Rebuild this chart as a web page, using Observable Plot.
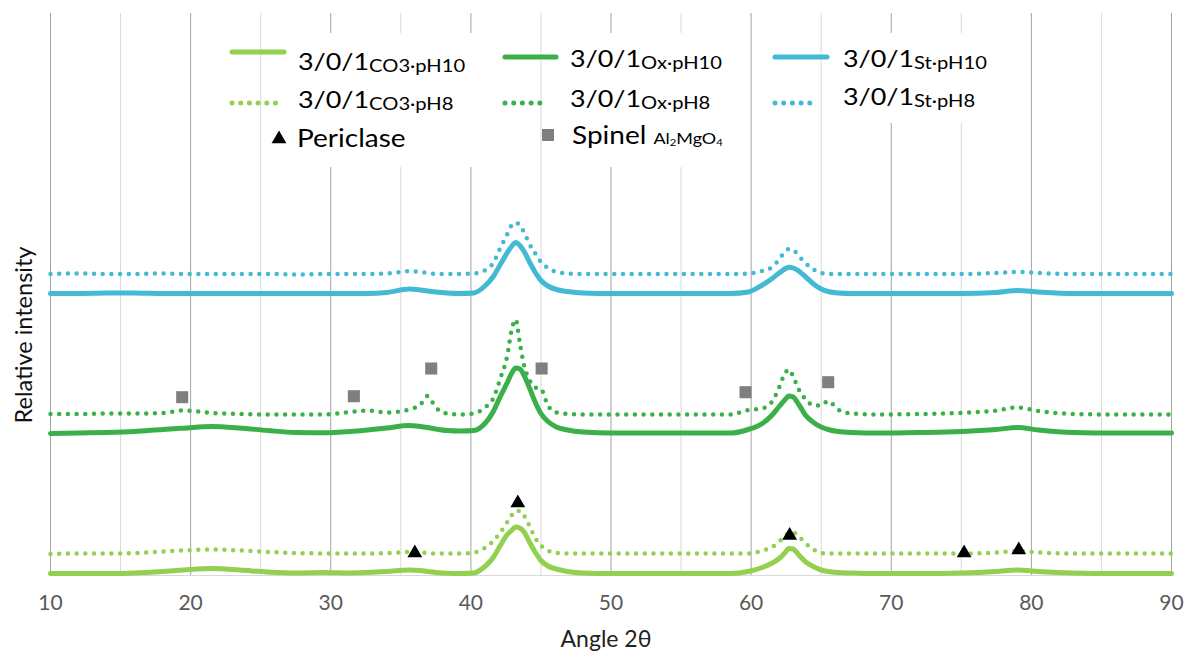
<!DOCTYPE html>
<html>
<head>
<meta charset="utf-8">
<script src="https://cdn.jsdelivr.net/npm/d3@7"></script>
<script src="https://cdn.jsdelivr.net/npm/@observablehq/plot@0.6"></script>
<style>
  html, body { margin: 0; padding: 0; background: #fff; }
  #wrap { position: relative; width: 1187px; height: 653px; font-family: Lato, "Open Sans", sans-serif; }
  #wrap svg.chart { position: absolute; left: 0; top: 0; }
  .blk { position: absolute; background: #fff; }
  .lg { position: absolute; font-size: 24px; line-height: 24px; color: #000; white-space: nowrap; transform: scaleX(1.12); transform-origin: 0 50%; }
  .lg.big { font-size: 25px; }
  .lg .s { font-size: 18px; position: relative; top: 2px; }
  .lg .ss { font-size: 16px; }
  .lg .ss sub { font-size: 10px; vertical-align: 0; position: relative; top: 2px; }
  #ylab { position: absolute; left: 23px; top: 335px; transform: translate(-50%, -50%) rotate(-90deg); font-size: 23.5px; color: #111; white-space: nowrap; }
  #xlab { position: absolute; left: 606px; top: 624px; transform: translateX(-50%); font-size: 23px; color: #222; white-space: nowrap; }
</style>
</head>
<body>
<div id="wrap"></div>
<script>
// ---- data ----
const angles = [10,12,14,16,18,19.5,21.5,23.5,25.5,27.5,29.5,31.4,32.6,34,35.6,36.4,36.9,37.5,38.3,39.3,40.2,41,41.6,42.1,42.6,42.9,43.2,43.5,43.8,44.2,44.6,45,45.5,46.1,46.9,48,50,53,56,58.5,59.8,60.8,61.5,62,62.4,62.7,63,63.4,63.9,64.5,65,65.5,66.2,67.2,69,72,75,77.5,79,80.5,83,86,90];

const co3pH10 = [2,2,2,2.5,4, 5.5,7,5.5,3.5,2.5, 3,2.5,3,4,5.5, 5,4,3,2.2,2, 2.5,9,18,30,41, 45,48.5,47.5,43.5,33, 23,15,9.5,6.5,4, 2.5,2,2,2,2, 4,8,12.5,17,22.5, 27,26.5,20.5,13.5,8.5, 5.5,4,3,2.5,2, 2,2.5,4,5.5,4, 2.5,2,2];
const co3pH8 = [21.5,22,22,22.5,24, 25,26,25,23.5,22.5, 22,22,22,22.5,23.5, 23,22.5,22,22,22, 23,27.5,34.5,43,53.5, 60,64.5,64.5,60,49, 37.5,30,25,22.5,22, 22,22,22,22,22, 22,25,28.5,34,39.5, 42.5,43,39,32,25.5, 22.5,22,22,22,22, 22,22,23,24.5,23, 22,22,22];
const oxpH10 = [142,142.5,143,144,146, 147.3,149,147.5,145,143, 142.7,144,145.5,147.5,150, 149,148,146.5,145,144.5, 145,152,164,179,193, 202,207.5,206.5,200,187, 173,162,154,148.5,145.5, 143.5,142.5,142.5,142.5,142.5, 146,152,160.5,169,175.5, 179.5,178.5,171,160,152.5, 148.5,146,144,143,142.5, 143,144,146,148,145.5, 143,142.5,142.5];
const oxpH8 = [161.5,161.5,162,162,162.5, 165,162.5,161.5,161,161, 161,163.5,165,163,166, 171,179.5,168,162,161, 162,168,177,197,220, 245,256,232,210,195, 188,186.5,170,163,161.5, 161,161,161,161,161, 165.5,167,174,188,202, 206,199,186,176,170, 170,174.5,166,162,161, 161.5,162.5,165,168,164.5, 161.5,161,161];
const stpH10 = [282,282,282.5,282.5,282, 282,282,282,282,282, 282,282,282,283,286.5, 285.5,284.5,283.5,282.5,282, 282.5,289.5,299,311,323, 329,333,330,324,313, 303,295,289.5,286,284, 282.5,282,282,282,282, 283.5,290.5,297,302.5,306.5, 308.3,307.5,304.5,298.5,291, 286.5,284,282.5,282,282, 282,282,283,285,283.5, 282,282,282];
const stpH8 = [301.5,302,301.5,301.5,302, 301.5,301.5,301.5,301.5,301, 301.5,301.5,301.5,302,304.3, 303.5,302.5,301.5,301.5,301.5, 302,305,312.5,327.5,341.5, 350,353,350,343,331, 322,313.5,307.5,303.5,302, 301.5,301.5,301.5,301.5,301.5, 302,304.5,308.5,316,323.5, 326.5,325.5,319.5,312,305.7, 302.5,301.5,301.5,301.5,301.5, 301.5,301.5,302.5,303.5,302.5, 301.5,301.5,301.5];

const periclaseAngles = [36.0, 43.35, 62.75, 75.2, 79.1];
const periclaseIntensity = [22.5, 72.5, 40, 22.5, 25.5];
const spinelAngles = [19.4, 31.65, 37.17, 45.05, 59.6, 65.5];
const spinelIntensity = [178.3, 179.3, 207, 207, 183.3, 193.3];

const xTicks = [10, 20, 30, 40, 50, 60, 70, 80, 90];
const minorTicks = [15, 25, 35, 45, 55, 65, 75, 85];

const seriesNames = ["3/0/1CO3·pH10", "3/0/1CO3·pH8", "3/0/1Ox·pH10", "3/0/1Ox·pH8", "3/0/1St·pH10", "3/0/1St·pH8"];
const seriesValues = [co3pH10, co3pH8, oxpH10, oxpH8, stpH10, stpH8];
const seriesColors = ["#92D050", "#92D050", "#3BAF4A", "#3BAF4A", "#44B9D4", "#44B9D4"];
const seriesDotted = [false, true, false, true, false, true];

// ---- build table ----
const rows = [];
seriesNames.forEach((name, i) => {
  seriesValues[i].forEach((v, j) => rows.push({series: name, angle: angles[j], intensity: v, color: seriesColors[i], dotted: seriesDotted[i]}));
});
const solidRows = rows.filter(d => !d.dotted);
const dottedRows = rows.filter(d => d.dotted);
const periclase = periclaseAngles.map((a, i) => ({angle: a, intensity: periclaseIntensity[i]}));
const spinel = spinelAngles.map((a, i) => ({angle: a, intensity: spinelIntensity[i]}));

const chart = Plot.plot({
  width: 1187,
  height: 653,
  marginLeft: 50,
  marginRight: 16,
  marginTop: 13,
  marginBottom: 78,
  style: {fontFamily: "Lato, 'Open Sans', sans-serif", fontSize: "21px", color: "#595959", background: "transparent"},
  x: {domain: [10, 90]},
  y: {domain: [0, 562], axis: null},
  marks: [
    Plot.ruleX(minorTicks, {stroke: "#D9D9D9", strokeWidth: 1}),
    Plot.ruleX(xTicks, {stroke: "#A3A3A3", strokeWidth: 1}),
    Plot.ruleY([0], {stroke: "#D9D9D9", strokeWidth: 1}),
    Plot.axisX({ticks: xTicks, tickSize: 0, tickPadding: 20, label: null, fontSize: 21}),
    Plot.line(dottedRows, {x: "angle", y: "intensity", z: "series", stroke: "color", strokeWidth: 4.5, strokeDasharray: "0 8.7", strokeLinecap: "round", curve: "monotone-x"}),
    Plot.line(solidRows, {x: "angle", y: "intensity", z: "series", stroke: "color", strokeWidth: 5, strokeLinejoin: "round", curve: "monotone-x"}),
    Plot.dot(spinel, {x: "angle", y: "intensity", symbol: "square", r: 6.8, fill: "#7F7F7F", stroke: "none"}),
    Plot.dot(periclase, {x: "angle", y: "intensity", symbol: "triangle", r: 5.5, fill: "#000", stroke: "none"})
  ]
});
chart.classList.add("chart");
const wrap = document.getElementById("wrap");
wrap.appendChild(chart);

// ---- legend (overlaid on plot, like the original) ----
const blocks = [[293, 33, 181, 134], [565, 33, 170, 134], [838, 33, 155, 90]];
blocks.forEach(([l, t, w, h]) => {
  const b = document.createElement("div");
  b.className = "blk";
  Object.assign(b.style, {left: l + "px", top: t + "px", width: w + "px", height: h + "px"});
  wrap.appendChild(b);
});

const legendSvg = d3.select(wrap).append("svg")
  .attr("width", 1187).attr("height", 653)
  .style("position", "absolute").style("left", 0).style("top", 0).style("pointer-events", "none");

const legendItems = [
  {i: 0, x1: 232, x2: 284, y: 52, tx: 298, ty: 49},
  {i: 1, x1: 232, x2: 284, y: 103, tx: 298, ty: 87},
  {i: 2, x1: 505, x2: 556, y: 57, tx: 570, ty: 46},
  {i: 3, x1: 505, x2: 548, y: 103, tx: 570, ty: 86},
  {i: 4, x1: 775, x2: 827, y: 57, tx: 843, ty: 46},
  {i: 5, x1: 775, x2: 818, y: 103, tx: 843, ty: 84}
];
legendItems.forEach(it => {
  legendSvg.append("line")
    .attr("x1", it.x1).attr("x2", it.x2).attr("y1", it.y).attr("y2", it.y)
    .attr("stroke", seriesColors[it.i]).attr("stroke-width", 5).attr("stroke-linecap", "round")
    .attr("stroke-dasharray", seriesDotted[it.i] ? "0 8.7" : null);
  const d = document.createElement("div");
  d.className = "lg";
  d.style.left = it.tx + "px";
  d.style.top = it.ty + "px";
  const name = seriesNames[it.i];
  d.innerHTML = name.slice(0, 5) + '<span class="s">' + name.slice(5) + '</span>';
  wrap.appendChild(d);
});
legendSvg.append("path").attr("d", d3.symbol(d3.symbolTriangle, 95)()).attr("transform", "translate(279,139)").attr("fill", "#000");
legendSvg.append("rect").attr("x", 542).attr("y", 129).attr("width", 12).attr("height", 12).attr("fill", "#7F7F7F");

const per = document.createElement("div");
per.className = "lg big"; per.style.left = "297px"; per.style.top = "125px";
per.textContent = "Periclase";
wrap.appendChild(per);
const spi = document.createElement("div");
spi.className = "lg big"; spi.style.left = "572px"; spi.style.top = "122px";
spi.innerHTML = 'Spinel <span class="ss">Al<sub>2</sub>MgO<sub>4</sub></span>';
wrap.appendChild(spi);

// axis titles
const yl = document.createElement("div"); yl.id = "ylab"; yl.textContent = "Relative intensity"; wrap.appendChild(yl);
const xl = document.createElement("div"); xl.id = "xlab"; xl.textContent = "Angle 2θ"; wrap.appendChild(xl);
</script>
</body>
</html>
